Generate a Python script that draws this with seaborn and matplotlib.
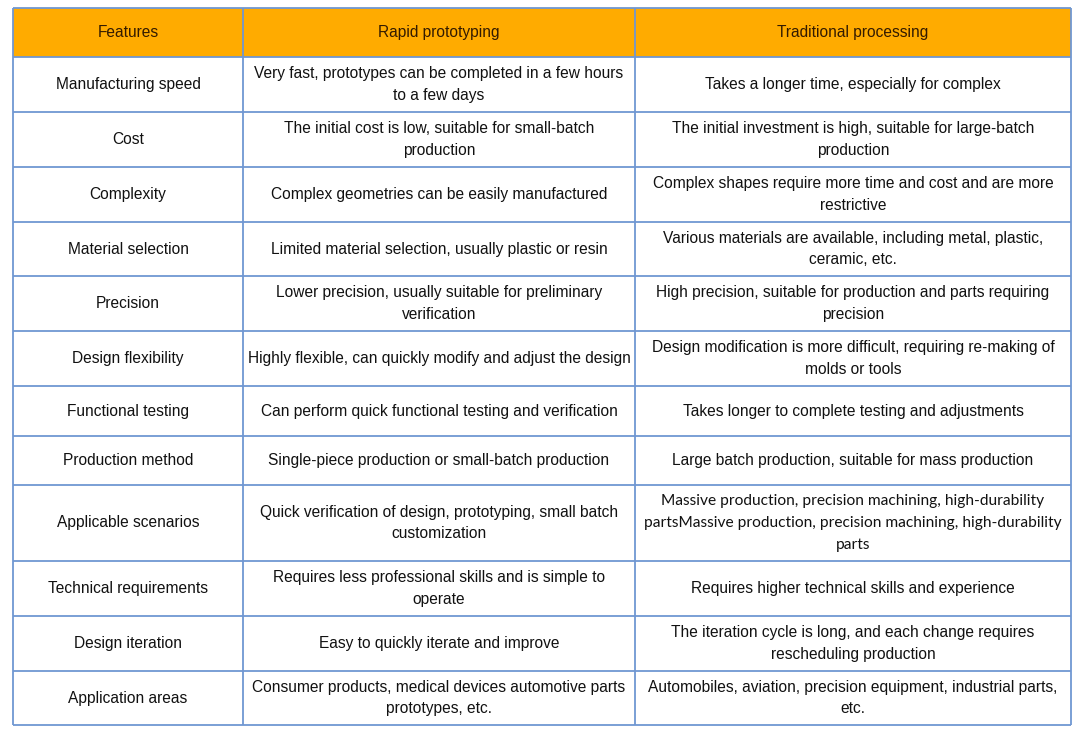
import matplotlib
matplotlib.use("Agg")
import matplotlib.pyplot as plt
import seaborn as sns
from matplotlib.patches import Rectangle

# table content
header = ["Features", "Rapid prototyping", "Traditional processing"]
features = [
    "Manufacturing speed",
    "Cost",
    "Complexity",
    "Material selection",
    "Precision",
    "Design flexibility",
    "Functional testing",
    "Production method",
    "Applicable scenarios",
    "Technical requirements",
    "Design iteration",
    "Application areas",
]
rapid = [
    "Very fast, prototypes can be completed in a few hours\nto a few days",
    "The initial cost is low, suitable for small-batch\nproduction",
    "Complex geometries can be easily manufactured",
    "Limited material selection, usually plastic or resin",
    "Lower precision, usually suitable for preliminary\nverification",
    "Highly flexible, can quickly modify and adjust the design",
    "Can perform quick functional testing and verification",
    "Single-piece production or small-batch production",
    "Quick verification of design, prototyping, small batch\ncustomization",
    "Requires less professional skills and is simple to\noperate",
    "Easy to quickly iterate and improve",
    "Consumer products, medical devices automotive parts\nprototypes, etc.",
]
traditional = [
    "Takes a longer time, especially for complex",
    "The initial investment is high, suitable for large-batch\nproduction",
    "Complex shapes require more time and cost and are more\nrestrictive",
    "Various materials are available, including metal, plastic,\nceramic, etc.",
    "High precision, suitable for production and parts requiring\nprecision",
    "Design modification is more difficult, requiring re-making of\nmolds or tools",
    "Takes longer to complete testing and adjustments",
    "Large batch production, suitable for mass production",
    "Massive production, precision machining, high-durability\npartsMassive production, precision machining, high-durability\nparts",
    "Requires higher technical skills and experience",
    "The iteration cycle is long, and each change requires\nrescheduling production",
    "Automobiles, aviation, precision equipment, industrial parts,\netc.",
]

# layout (pixels)
col_edges = [13, 243, 635, 1071]
row_edges = [8, 57, 112, 167, 222, 276, 331, 386, 436, 485, 561, 616, 671, 725]

sns.set_theme(style="white")
plt.rcParams["font.family"] = ["Liberation Sans", "DejaVu Sans"]

fig = plt.figure(figsize=(10.86, 7.35), dpi=100)
ax = fig.add_axes([0, 0, 1, 1])
ax.set_xlim(0, 1086)
ax.set_ylim(735, 0)
ax.axis("off")

line_color = "#7097d2"
header_color = "#ffab00"

ax.add_patch(Rectangle((col_edges[0], row_edges[0]), col_edges[-1] - col_edges[0],
                       row_edges[1] - row_edges[0], facecolor=header_color, edgecolor="none"))

for y in row_edges:
    ax.plot([col_edges[0], col_edges[-1]], [y, y], color=line_color, lw=1.3, solid_capstyle="butt")
for x in col_edges:
    ax.plot([x, x], [row_edges[0], row_edges[-1]], color=line_color, lw=1.3, solid_capstyle="butt")


def cell_center(r, c):
    return (col_edges[c] + col_edges[c + 1]) / 2, (row_edges[r] + row_edges[r + 1]) / 2


for c, label in enumerate(header):
    x, y = cell_center(0, c)
    ax.text(x, y, label, ha="center", va="center", fontsize=11.2, color="#331b00")

for r, row in enumerate(zip(features, rapid, traditional), start=1):
    for c, txt in enumerate(row):
        x, y = cell_center(r, c)
        if txt.startswith("Massive"):
            family, spacing = ["Lato", "DejaVu Sans"], 1.74
        else:
            family, spacing = ["Liberation Sans", "DejaVu Sans"], 1.56
        ax.text(x, y, txt, ha="center", va="center", fontsize=11.2, color="#111111",
                linespacing=spacing, family=family)

fig.savefig("out.png", dpi=100)
